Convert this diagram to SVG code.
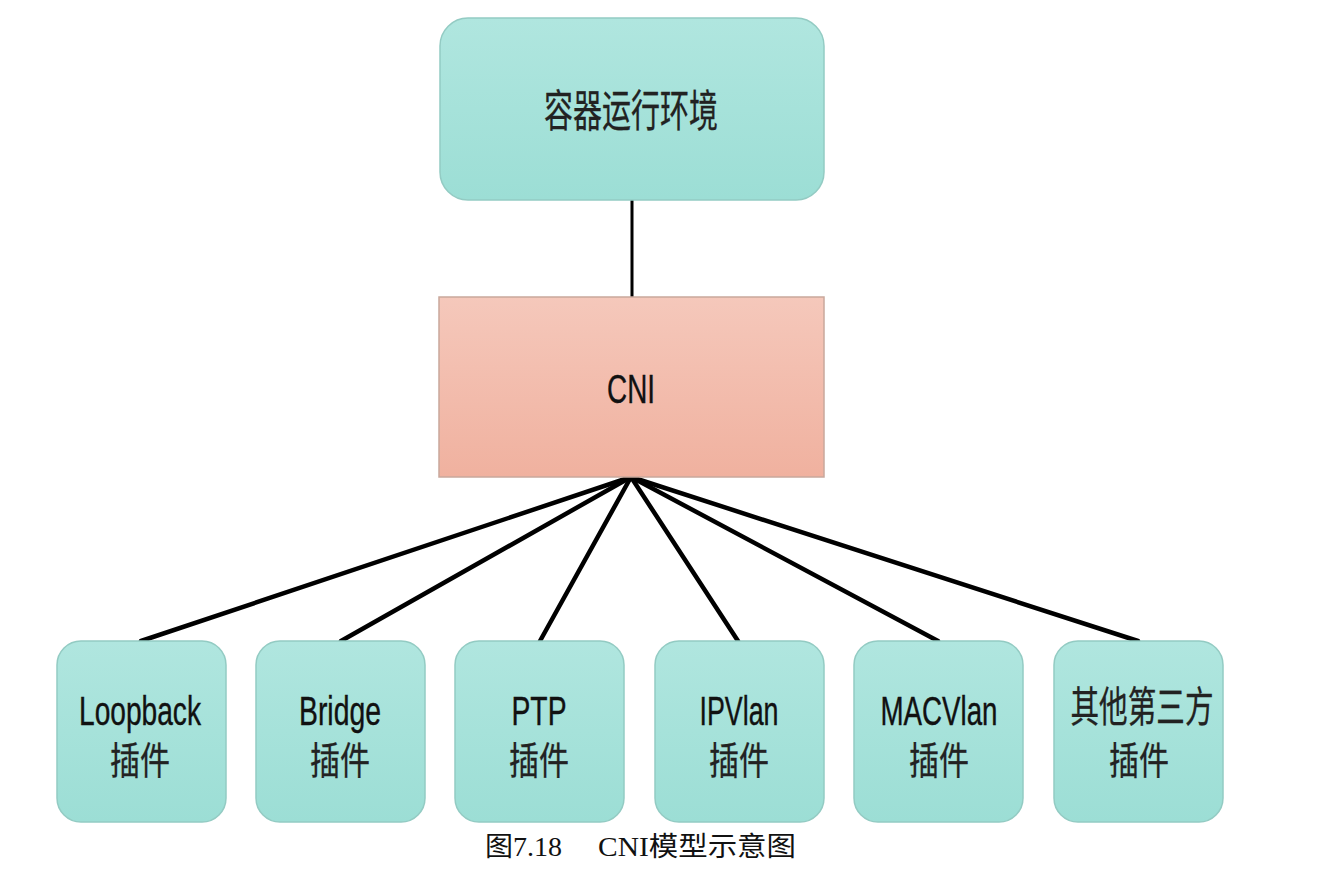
<svg xmlns="http://www.w3.org/2000/svg" width="1318" height="886" viewBox="0 0 1318 886">
<defs>
<linearGradient id="teal" x1="0" y1="0" x2="0" y2="1">
<stop offset="0" stop-color="#b0e6df"/>
<stop offset="1" stop-color="#9cded5"/>
</linearGradient>
<linearGradient id="salmon" x1="0" y1="0" x2="0" y2="1">
<stop offset="0" stop-color="#f5c8bb"/>
<stop offset="1" stop-color="#f0b19f"/>
</linearGradient>
<style>
.tb{fill:url(#teal);stroke:#93cbc3;stroke-width:1.5}
.sb{fill:url(#salmon);stroke:#c9a89c;stroke-width:1.5}
.lt{font-family:"Liberation Sans",Arial,"Noto Sans CJK SC",sans-serif;fill:#111;stroke:#111;stroke-width:0.4;text-anchor:middle}
.cj{font-family:"Noto Sans CJK SC","Liberation Sans",sans-serif;fill:#222;stroke:#222;stroke-width:0.3;text-anchor:middle}
.cap{font-family:"Liberation Serif","Noto Sans CJK SC",serif;fill:#111;font-size:27px}
.ln{stroke:#000;stroke-width:4.5;stroke-linecap:round;fill:none}
</style>
</defs>
<rect width="1318" height="886" fill="#fff"/>
<g id="connectors">
<line class="ln" x1="632" y1="200" x2="632" y2="297" style="stroke-width:3"/>
<line class="ln" x1="631" y1="477" x2="141" y2="641"/>
<line class="ln" x1="631" y1="477" x2="341" y2="641"/>
<line class="ln" x1="631" y1="477" x2="540" y2="641"/>
<line class="ln" x1="631" y1="477" x2="738" y2="641"/>
<line class="ln" x1="631" y1="477" x2="938" y2="641"/>
<line class="ln" x1="631" y1="477" x2="1138" y2="641"/>
</g>
<g id="runtime">
<rect class="tb" x="440" y="18" width="384" height="182" rx="28"/>
<text class="cj" x="631" y="127" font-size="44" textLength="174" lengthAdjust="spacingAndGlyphs">容器运行环境</text>
</g>
<g id="cni">
<rect class="sb" x="439" y="297" width="385" height="180"/>
<text class="lt" x="631" y="403" font-size="40" textLength="48" lengthAdjust="spacingAndGlyphs">CNI</text>
</g>
<g id="loopback">
<rect class="tb" x="57" y="641" width="169" height="181" rx="24"/>
<text class="lt" x="140" y="725" font-size="41" textLength="122" lengthAdjust="spacingAndGlyphs">Loopback</text>
<text class="cj" x="140" y="774" font-size="38" textLength="60" lengthAdjust="spacingAndGlyphs">插件</text>
</g>
<g id="bridge">
<rect class="tb" x="256" y="641" width="169" height="181" rx="24"/>
<text class="lt" x="340" y="725" font-size="41" textLength="82" lengthAdjust="spacingAndGlyphs">Bridge</text>
<text class="cj" x="340" y="774" font-size="38" textLength="60" lengthAdjust="spacingAndGlyphs">插件</text>
</g>
<g id="ptp">
<rect class="tb" x="455" y="641" width="169" height="181" rx="24"/>
<text class="lt" x="539" y="725" font-size="41" textLength="55" lengthAdjust="spacingAndGlyphs">PTP</text>
<text class="cj" x="539" y="774" font-size="38" textLength="60" lengthAdjust="spacingAndGlyphs">插件</text>
</g>
<g id="ipvlan">
<rect class="tb" x="655" y="641" width="169" height="181" rx="24"/>
<text class="lt" x="739" y="725" font-size="41" textLength="79" lengthAdjust="spacingAndGlyphs">IPVlan</text>
<text class="cj" x="739" y="774" font-size="38" textLength="60" lengthAdjust="spacingAndGlyphs">插件</text>
</g>
<g id="macvlan">
<rect class="tb" x="854" y="641" width="169" height="181" rx="24"/>
<text class="lt" x="939" y="725" font-size="41" textLength="117" lengthAdjust="spacingAndGlyphs">MACVlan</text>
<text class="cj" x="939" y="774" font-size="38" textLength="60" lengthAdjust="spacingAndGlyphs">插件</text>
</g>
<g id="thirdparty">
<rect class="tb" x="1054" y="641" width="169" height="181" rx="24"/>
<text class="cj" x="1142" y="722" font-size="42" textLength="143" lengthAdjust="spacingAndGlyphs">其他第三方</text>
<text class="cj" x="1139" y="774" font-size="38" textLength="60" lengthAdjust="spacingAndGlyphs">插件</text>
</g>
<g id="caption">
<text class="cap" x="485" y="856" textLength="77" lengthAdjust="spacingAndGlyphs">图7.18</text>
<text class="cap" x="598" y="856" textLength="198" lengthAdjust="spacingAndGlyphs">CNI模型示意图</text>
</g>
</svg>
